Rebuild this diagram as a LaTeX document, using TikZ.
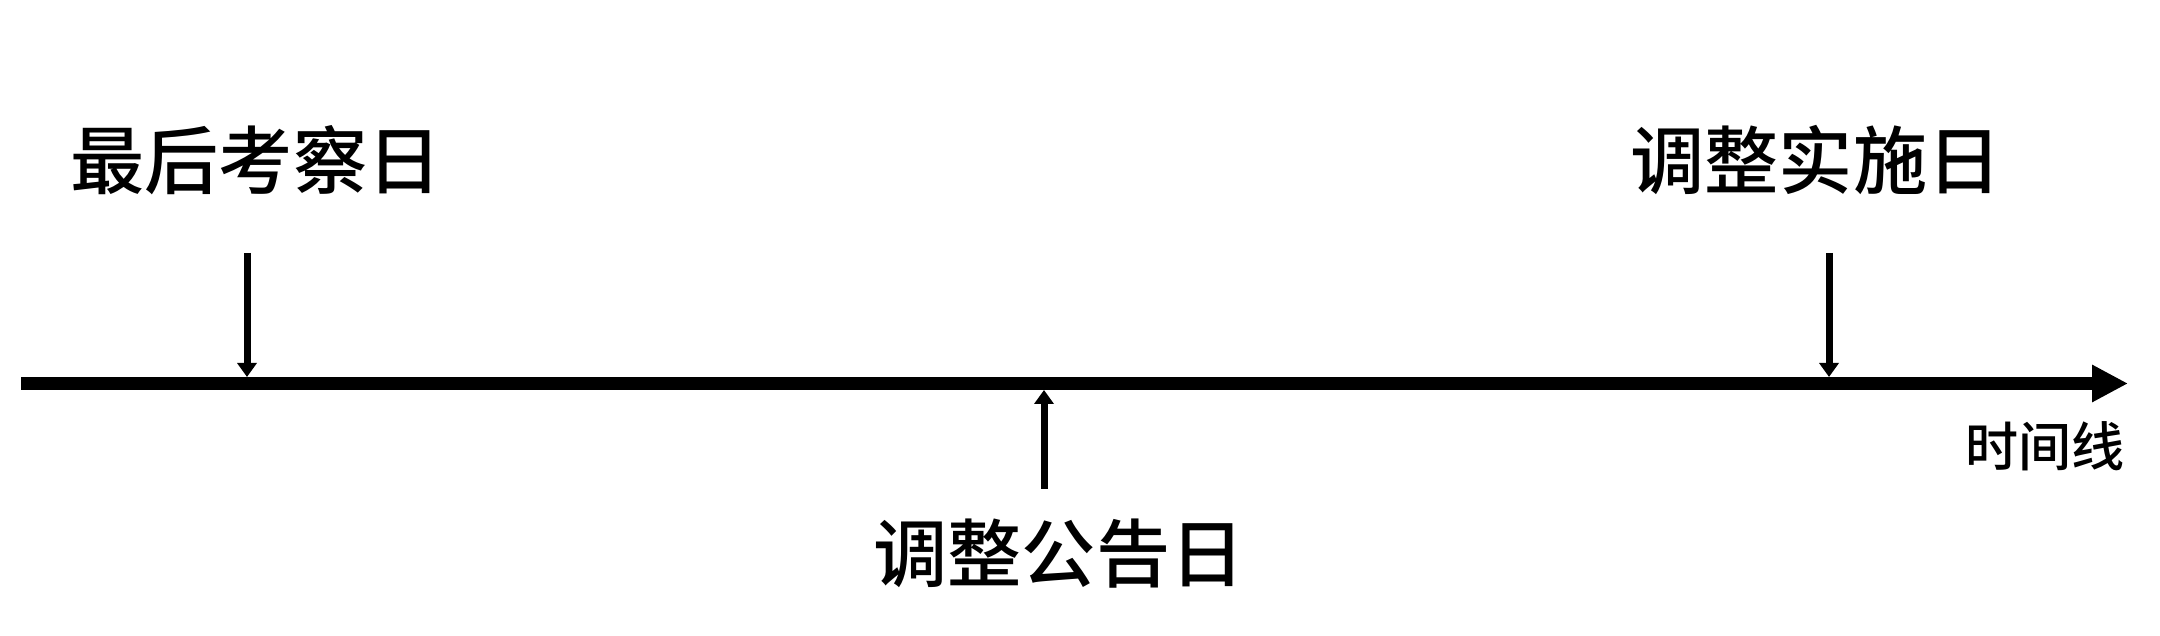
\documentclass[tikz,border=0pt]{standalone}
\usepackage{fontspec}
\setmainfont{Noto Sans CJK SC Medium}
\usetikzlibrary{arrows.meta,positioning}

\begin{document}
\begin{tikzpicture}[
    event/.style={inner sep=0pt,font=\fontsize{21.1}{25}\selectfont},
    axislabel/.style={inner sep=0pt,font=\fontsize{15.1}{18}\selectfont},
    eventarrow/.style={-{Triangle[length=0.14cm,width=0.19cm]},line width=0.07cm}]
    \useasboundingbox (0,0) rectangle (21.6,6.36);
    % timeline
    \coordinate (start) at (0.21,2.525);
    \coordinate (end) at (21.28,2.525);
    \draw[line width=0.125cm,-{Triangle[length=0.36cm,width=0.35cm]}] (start) -- (end);
    \node[axislabel] (tl) at (20.45,1.90) {时间线};
    % events
    \node[event] (last) at (2.56,4.76) {最后考察日};
    \node[event] (impl) at (18.16,4.76) {调整实施日};
    \node[event] (ann) at (10.59,0.82) {调整公告日};
    \coordinate (a1) at (2.47,3.83);
    \coordinate (b1) at (2.47,2.59);
    \coordinate (a2) at (18.29,3.83);
    \coordinate (b2) at (18.29,2.59);
    \coordinate (a3) at (10.44,1.47);
    \coordinate (b3) at (10.44,2.46);
    \draw[eventarrow] (a1) -- (b1);
    \draw[eventarrow] (a2) -- (b2);
    \draw[eventarrow] (a3) -- (b3);
\end{tikzpicture}
\end{document}
